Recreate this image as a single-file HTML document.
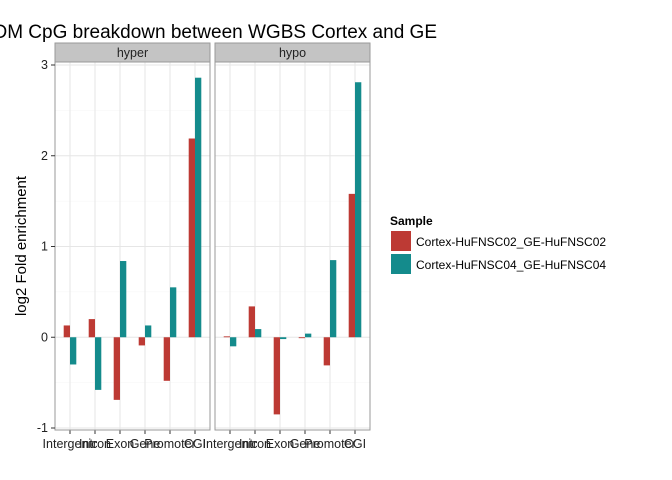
<!DOCTYPE html>
<html><head><meta charset="utf-8"><style>body{margin:0;background:#fff}svg{display:block;font-family:"Liberation Sans",Arial,sans-serif}</style></head>
<body>
<svg id="chart" width="672" height="480">
<text x="437" y="38" font-size="19" text-anchor="end">DM CpG breakdown between WGBS Cortex and GE</text>
<text transform="translate(26,246) rotate(-90)" font-size="15" text-anchor="middle">log2 Fold enrichment</text>
<g id="plot"></g>
<g>
<text x="390" y="225" font-size="12" font-weight="bold">Sample</text>
<rect x="391" y="231" width="20" height="20" fill="#BD3A34"/>
<text x="416" y="246" font-size="12">Cortex-HuFNSC02_GE-HuFNSC02</text>
<rect x="391" y="254" width="20" height="20" fill="#148B8C"/>
<text x="416" y="269" font-size="12">Cortex-HuFNSC04_GE-HuFNSC04</text>
</g>
</svg>
<script>
const categories=["Intergenic","Intron","Exon","Gene","Promoter","CGI"];
const panels=["hyper","hypo"];
const hyperS1=[0.13,0.20,-0.69,-0.09,-0.48,2.19];
const hyperS2=[-0.30,-0.58,0.84,0.13,0.55,2.86];
const hypoS1=[0.01,0.34,-0.85,-0.01,-0.31,1.58];
const hypoS2=[-0.10,0.09,-0.02,0.04,0.85,2.81];
const yTicks=[-1,0,1,2,3];
const NS="http://www.w3.org/2000/svg";
const g=document.getElementById("plot");
const colors=["#BD3A34","#148B8C"];
const pTop=62,pBottom=430;
function y(v){return 337.25-90.75*v;}
function mk(t,a,p){const e=document.createElementNS(NS,t);for(const k in a)e.setAttribute(k,a[k]);(p||g).appendChild(e);return e;}
const lefts=[55,215],pw=155;
const data=[[hyperS1,hyperS2],[hypoS1,hypoS2]];
panels.forEach((pn,pi)=>{
  const L=lefts[pi];
  function x(i){return L+(i+0.6)/6.2*pw;}
  const bw=6.3;
  const pg=mk("g",{});
  
  
  mk("rect",{x:L,y:pTop,width:pw,height:pBottom-pTop,fill:"#fff"},pg);
  for(let v=-0.5;v<=3;v+=1){mk("line",{x1:L,x2:L+pw,y1:y(v),y2:y(v),stroke:"#f4f4f4","stroke-width":0.6},pg);}
  yTicks.forEach(v=>mk("line",{x1:L,x2:L+pw,y1:y(v),y2:y(v),stroke:"#e6e6e6","stroke-width":1},pg));
  categories.forEach((c,i)=>{
    mk("line",{x1:x(i),x2:x(i),y1:pTop,y2:pBottom,stroke:"#e6e6e6","stroke-width":1},pg);
    mk("line",{x1:x(i),x2:x(i),y1:pBottom,y2:pBottom+4,stroke:"#333","stroke-width":1},pg);
    const t=mk("text",{x:x(i),y:pBottom+18,"font-size":12.5,"text-anchor":"middle",fill:"#222"},pg);
    t.textContent=c;
    
    
  });
  data[pi].forEach((series,si)=>{
    series.forEach((v,i)=>{
      const x0=x(i)+(si===0?-bw:0);
      const r=mk("rect",{x:x0,y:Math.min(y(v),y(0)),width:bw,height:Math.abs(y(v)-y(0)),fill:colors[si]},pg);
      
      
    });
  });
  mk("rect",{x:L,y:pTop,width:pw,height:pBottom-pTop,fill:"none",stroke:"#999","stroke-width":1},pg);
  mk("rect",{x:L,y:43,width:pw,height:pTop-43,fill:"#c4c4c4",stroke:"#999","stroke-width":1},pg);
  const st=mk("text",{x:L+pw/2,y:57,"font-size":12.5,"text-anchor":"middle",fill:"#222"},pg);
  st.textContent=pn;
  
  
});
yTicks.forEach(v=>{
  mk("line",{x1:51,x2:55,y1:y(v),y2:y(v),stroke:"#333","stroke-width":1});
  const t=mk("text",{x:48,y:y(v)+4,"font-size":12.5,"text-anchor":"end",fill:"#222"});
  t.textContent=v;
  
  
});
</script>
</body></html>
